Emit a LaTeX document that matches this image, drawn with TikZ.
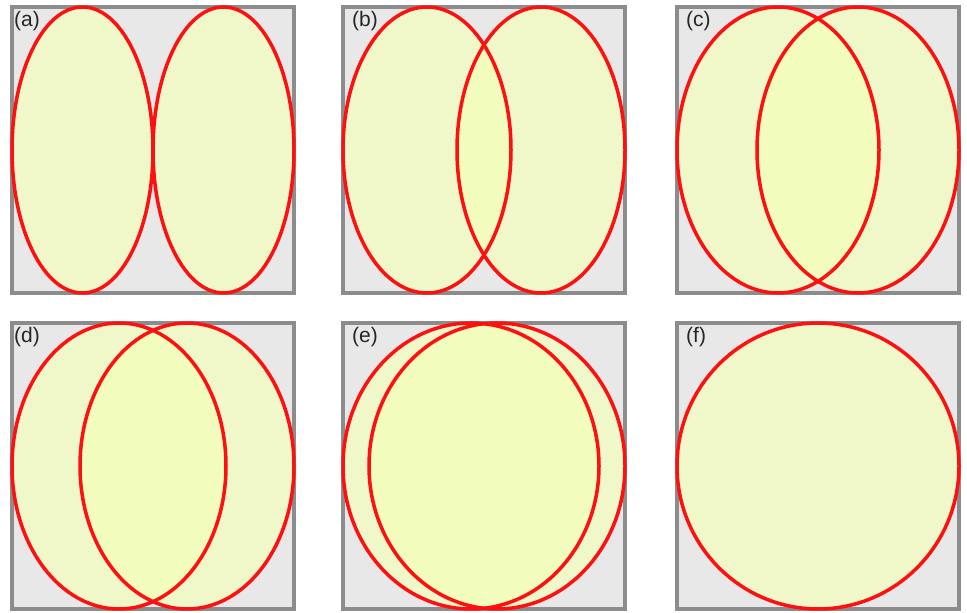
\documentclass[tikz,border=0pt]{standalone}
\usepackage{fontspec}
\setmainfont{Liberation Sans}
\usepackage{tikz}
\usetikzlibrary{positioning}
\usepackage{xcolor}
\definecolor{panelgray}{RGB}{232,232,232}
\definecolor{panelline}{RGB}{140,140,140}
\definecolor{vennfill}{RGB}{244,255,184}
\definecolor{vennred}{RGB}{255,16,16}

\begin{document}
\begin{tikzpicture}[
    x=1pt, y=1pt,
    panel/.style={draw=panelline, fill=panelgray, line width=3.2pt},
    venn/.style={fill=vennfill, fill opacity=0.667},
    rim/.style={draw=vennred, line width=3.5pt},
    tag/.style={anchor=north west, inner sep=0pt, text=black!85, font=\fontsize{21}{24}\selectfont}
]
    \useasboundingbox (0,0) rectangle (967,613);

    % (a)
    \draw[panel] (12,320) rectangle (294,606);
    \fill[venn] (82.5,463) ellipse [x radius=70.5, y radius=143];
    \fill[venn] (223.5,463) ellipse [x radius=70.5, y radius=143];
    \draw[rim] (82.5,463) ellipse [x radius=70.5, y radius=143];
    \draw[rim] (223.5,463) ellipse [x radius=70.5, y radius=143];
    \node[tag] (la) at (14,602) {(a)};

    % (b)
    \draw[panel] (343,320) rectangle (625,606);
    \fill[venn] (427,463) ellipse [x radius=84, y radius=143];
    \fill[venn] (541,463) ellipse [x radius=84, y radius=143];
    \draw[rim] (427,463) ellipse [x radius=84, y radius=143];
    \draw[rim] (541,463) ellipse [x radius=84, y radius=143];
    \node[tag] (lb) at (352,602) {(b)};

    % (c)
    \draw[panel] (677,320) rectangle (959,606);
    \fill[venn] (778,463) ellipse [x radius=101, y radius=143];
    \fill[venn] (858,463) ellipse [x radius=101, y radius=143];
    \draw[rim] (778,463) ellipse [x radius=101, y radius=143];
    \draw[rim] (858,463) ellipse [x radius=101, y radius=143];
    \node[tag] (lc) at (686,602) {(c)};

    % (d)
    \draw[panel] (12,4) rectangle (294,290);
    \fill[venn] (119,147) ellipse [x radius=107, y radius=143];
    \fill[venn] (187,147) ellipse [x radius=107, y radius=143];
    \draw[rim] (119,147) ellipse [x radius=107, y radius=143];
    \draw[rim] (187,147) ellipse [x radius=107, y radius=143];
    \node[tag] (ld) at (14,286) {(d)};

    % (e)
    \draw[panel] (343,4) rectangle (625,290);
    \fill[venn] (471,147) ellipse [x radius=128, y radius=143];
    \fill[venn] (497,147) ellipse [x radius=128, y radius=143];
    \draw[rim] (471,147) ellipse [x radius=128, y radius=143];
    \draw[rim] (497,147) ellipse [x radius=128, y radius=143];
    \node[tag] (le) at (352,286) {(e)};

    % (f)
    \draw[panel] (677,4) rectangle (959,290);
    \fill[venn] (818,147) ellipse [x radius=141, y radius=143];
    \draw[rim] (818,147) ellipse [x radius=141, y radius=143];
    \node[tag] (lf) at (686,286) {(f)};
\end{tikzpicture}
\end{document}
